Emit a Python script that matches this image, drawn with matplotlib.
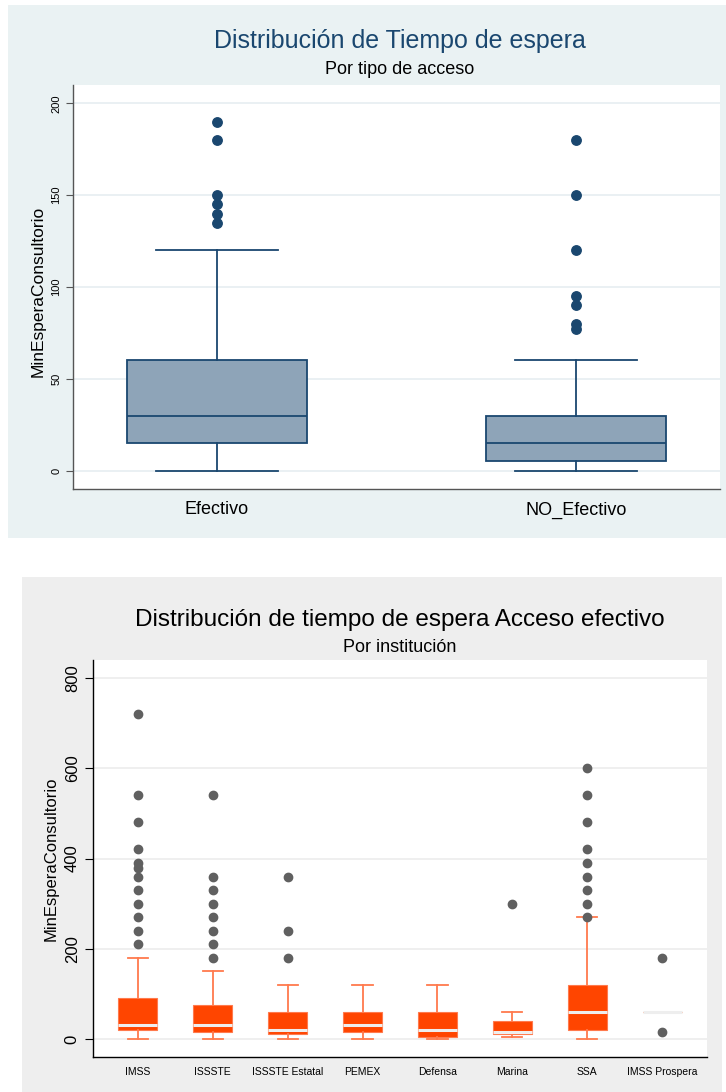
import matplotlib
matplotlib.use("Agg")
import matplotlib.pyplot as plt
from matplotlib.patches import Rectangle

plt.rcParams['font.family'] = ['Liberation Sans', 'DejaVu Sans']

W, H = 726, 1092

# --- tiempo de espera por tipo de acceso ---
acceso = ["Efectivo", "NO_Efectivo"]
acc_whislo = [0, 0]
acc_q1 = [15, 5]
acc_med = [30, 15]
acc_q3 = [60, 30]
acc_whishi = [120, 60]
acc_fliers = [[135, 140, 145, 150, 180, 190],
              [77, 80, 90, 95, 120, 150, 180]]

# --- acceso efectivo por institucion ---
inst = ["IMSS", "ISSSTE", "ISSSTE Estatal", "PEMEX", "Defensa", "Marina",
        "SSA", "IMSS Prospera"]
inst_whislo = [0, 0, 0, 0, 0, 5, 0, 60]
inst_q1 = [20, 15, 10, 15, 5, 10, 20, 60]
inst_med = [30, 30, 20, 30, 20, 15, 60, 60]
inst_q3 = [90, 75, 60, 60, 60, 40, 120, 60]
inst_whishi = [180, 150, 120, 120, 120, 60, 270, 60]
inst_fliers = [
    [210, 240, 270, 300, 330, 360, 380, 390, 420, 480, 540, 720],
    [180, 210, 240, 270, 300, 330, 360, 540],
    [180, 240, 360],
    [],
    [],
    [300],
    [270, 300, 330, 360, 390, 420, 480, 540, 600],
    [15, 180],
]


def fx(x):
    return x / W


def fy(y):
    return 1 - y / H


def axes_px(fig, left, top, right, bottom):
    return fig.add_axes([fx(left), fy(bottom), (right - left) / W, (bottom - top) / H])


def make_stats(lo, q1, med, q3, hi, fliers):
    return [dict(whislo=a, q1=b, med=c, q3=d, whishi=e, fliers=f)
            for a, b, c, d, e, f in zip(lo, q1, med, q3, hi, fliers)]


fig = plt.figure(figsize=(W / 100, H / 100), dpi=100)

# fondos de cada panel
fig.add_artist(Rectangle((fx(8), fy(538)), (726 - 8) / W, (538 - 5) / H,
                         transform=fig.transFigure, facecolor="#eaf2f3",
                         edgecolor="none", zorder=-10))
fig.add_artist(Rectangle((fx(22), fy(1092)), (722 - 22) / W, (1092 - 577) / H,
                         transform=fig.transFigure, facecolor="#eeeeee",
                         edgecolor="none", zorder=-10))

# ======== grafica 1 ========
navy = "#1a476f"
ax1 = axes_px(fig, 73, 85, 720, 489)
pos1 = list(range(1, len(acceso) + 1))
ax1.bxp(make_stats(acc_whislo, acc_q1, acc_med, acc_q3, acc_whishi, acc_fliers),
        positions=pos1, widths=0.5, capwidths=0.34, patch_artist=True,
        manage_ticks=False,
        boxprops=dict(facecolor="#8ea4b8", edgecolor=navy, linewidth=1.3),
        whiskerprops=dict(color=navy, linewidth=1.3),
        capprops=dict(color=navy, linewidth=1.3),
        medianprops=dict(color=navy, linewidth=1.3),
        flierprops=dict(marker="o", markerfacecolor=navy, markeredgecolor=navy,
                        markersize=6.8, linestyle="none"))
ax1.set_xlim(0.6, 2.4)
ax1.set_ylim(-10, 210)
ax1.set_xticks(pos1, acceso)
ax1.set_yticks([0, 50, 100, 150, 200])
ax1.grid(axis="y", color="#e6eef1", linewidth=1.2)
ax1.set_axisbelow(True)
for s in ["top", "right"]:
    ax1.spines[s].set_visible(False)
for s in ["left", "bottom"]:
    ax1.spines[s].set_color("#555555")
    ax1.spines[s].set_linewidth(1.0)
ax1.tick_params(axis="x", length=0, labelsize=13, pad=9)
ax1.tick_params(axis="y", length=5, labelsize=8, labelrotation=90, width=0.8,
                color="#555555")
for t in ax1.get_yticklabels():
    t.set_verticalalignment("center")
ax1.set_ylabel("MinEsperaConsultorio", fontsize=12.5)
ax1.yaxis.set_label_coords((46 - 73) / 647, 0.49)
fig.text(fx(400), fy(41), "Distribución de Tiempo de espera", color=navy,
         fontsize=18, ha="center", va="center")
fig.text(fx(400), fy(70), "Por tipo de acceso", color="black",
         fontsize=13, ha="center", va="center")

# ======== grafica 2 ========
naranja = "#ff4500"
claro = "#ff7a4d"
ax2 = axes_px(fig, 93, 660, 707, 1057)
pos2 = list(range(1, len(inst) + 1))
ax2.bxp(make_stats(inst_whislo, inst_q1, inst_med, inst_q3, inst_whishi, inst_fliers),
        positions=pos2, widths=0.52, capwidths=0.27, patch_artist=True,
        manage_ticks=False,
        boxprops=dict(facecolor=naranja, edgecolor=claro, linewidth=0.8),
        whiskerprops=dict(color=claro, linewidth=1.3),
        capprops=dict(color=claro, linewidth=1.3),
        medianprops=dict(color="#eeeeee", linewidth=2.2),
        flierprops=dict(marker="o", markerfacecolor="#606060",
                        markeredgecolor="#606060", markersize=6,
                        linestyle="none"))
ax2.set_xlim(0.4, 8.6)
ax2.set_ylim(-40, 840)
ax2.set_xticks(pos2, inst)
ax2.set_yticks([0, 200, 400, 600, 800])
ax2.grid(axis="y", color="#eeeeee", linewidth=1.3)
ax2.set_axisbelow(True)
for s in ["top", "right"]:
    ax2.spines[s].set_visible(False)
for s in ["left", "bottom"]:
    ax2.spines[s].set_color("black")
    ax2.spines[s].set_linewidth(1.0)
ax2.tick_params(axis="x", length=0, labelsize=7.5, pad=7)
ax2.tick_params(axis="y", length=6, labelsize=12, labelrotation=90, width=0.8)
for t in ax2.get_yticklabels():
    t.set_verticalalignment("center")
ax2.set_ylabel("MinEsperaConsultorio", fontsize=12)
ax2.yaxis.set_label_coords((59 - 93) / 614, 0.5)
fig.text(fx(400), fy(620), "Distribución de tiempo de espera Acceso efectivo",
         color="black", fontsize=17.5, ha="center", va="center")
fig.text(fx(400), fy(647), "Por institución", color="black",
         fontsize=13, ha="center", va="center")

fig.savefig("out.png", dpi=100)
